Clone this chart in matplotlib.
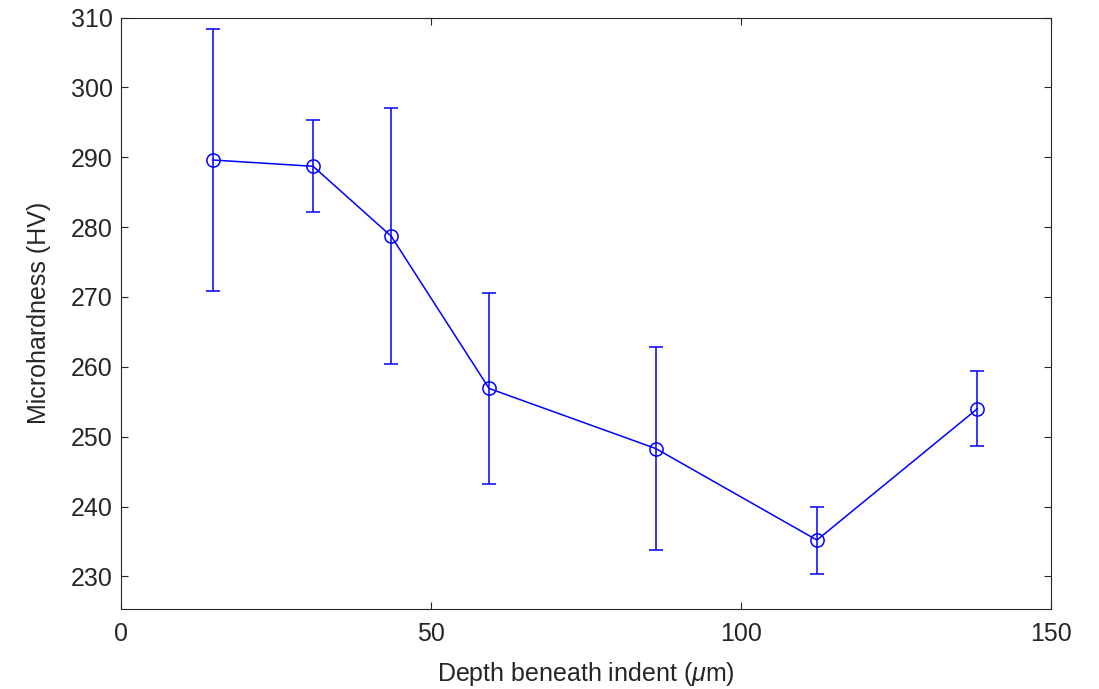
import matplotlib
matplotlib.use("Agg")
import matplotlib.pyplot as plt

depth = [14.9, 31.0, 43.6, 59.4, 86.3, 112.3, 138.2]
hardness = [289.6, 288.7, 278.7, 256.9, 248.3, 235.2, 254.0]
error = [18.7, 6.6, 18.3, 13.7, 14.5, 4.8, 5.4]
xticks = [0, 50, 100, 150]
yticks = [230, 240, 250, 260, 270, 280, 290, 300, 310]

plt.rcParams['font.family'] = ['Liberation Sans', 'DejaVu Sans']
plt.rcParams['mathtext.fontset'] = 'custom'
plt.rcParams['mathtext.it'] = 'Liberation Sans:italic'
plt.rcParams['mathtext.rm'] = 'Liberation Sans'

fig = plt.figure(figsize=(10.99, 6.89), dpi=100)
ax = fig.add_axes([0.1101, 0.1168, 0.8458, 0.8578])

ax.errorbar(depth, hardness, yerr=error, color=(0, 0, 1), lw=1.1,
            marker='o', markersize=9.5, markerfacecolor='none',
            markeredgewidth=1.1, capsize=5, elinewidth=1.1, capthick=1.1)

ax.set_xlim(0, 150)
ax.set_ylim(225.4, 310)
ax.set_xticks(xticks)
ax.set_yticks(yticks)

dark = (0.15, 0.15, 0.15)
for s in ax.spines.values():
    s.set_color(dark)
    s.set_linewidth(0.8)
ax.tick_params(direction='in', length=5, width=0.8, colors=dark,
               labelsize=18, top=True, right=True)
ax.tick_params(axis='y', pad=6)
ax.tick_params(axis='x', pad=10)
ax.set_xlabel(r'Depth beneath indent ($\mu$m)', fontsize=18, color=dark, labelpad=10)
ax.set_ylabel('Microhardness (HV)', fontsize=18, color=dark, labelpad=14)

fig.savefig('out.png', dpi=100)
